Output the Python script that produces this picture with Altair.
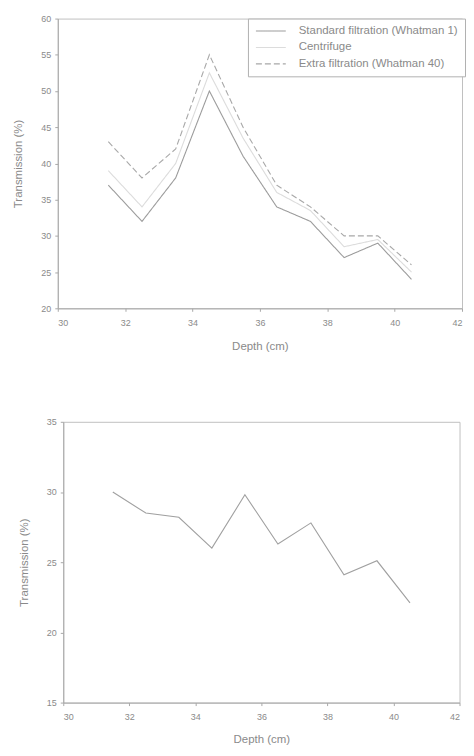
import altair as alt
import pandas as pd

depth = [31.5, 32.5, 33.5, 34.5, 35.5, 36.5, 37.5, 38.5, 39.5, 40.5]
series_names = ["Standard filtration (Whatman 1)", "Centrifuge", "Extra filtration (Whatman 40)"]
standard = [37, 32, 38, 50, 41, 34, 32, 27, 29, 24]
centrifuge = [39, 34, 40, 52.5, 43.5, 36, 33.5, 28.5, 29.5, 25]
extra = [43, 38, 42, 55, 45, 37, 34, 30, 30, 26]
bottom_vals = [30, 28.5, 28.2, 26, 29.8, 26.3, 27.8, 24.1, 25.1, 22.1]
x_ticks = [30, 32, 34, 36, 38, 40, 42]
top_y_ticks = [20, 25, 30, 35, 40, 45, 50, 55, 60]
bot_y_ticks = [15, 20, 25, 30, 35]

rows = []
for name, vals in zip(series_names, [standard, centrifuge, extra]):
    for d, v in zip(depth, vals):
        rows.append({"Depth": d, "Transmission": v, "Series": name})
top_df = pd.DataFrame(rows)
bot_df = pd.DataFrame({"Depth": depth, "Transmission": bottom_vals})

GRAY = "#a0a0a0"
TXT = "#8a8a8a"


def xaxis(tp):
    return alt.Axis(title="Depth (cm)", values=x_ticks, grid=False,
                    tickSize=3, labelPadding=7, titlePadding=tp)


def yaxis(vals):
    return alt.Axis(title="Transmission (%)", values=vals, grid=False,
                    tickSize=3, labelPadding=4, titlePadding=17)


top = alt.Chart(top_df).mark_line(strokeWidth=1.1).encode(
    x=alt.X("Depth:Q", scale=alt.Scale(domain=[30, 42], nice=False), axis=xaxis(13)),
    y=alt.Y("Transmission:Q", scale=alt.Scale(domain=[20, 60], nice=False), axis=yaxis(top_y_ticks)),
    color=alt.Color("Series:N",
                    scale=alt.Scale(domain=series_names, range=["#9c9c9c", "#dcdcdc", "#a8a8a8"]),
                    sort=series_names,
                    legend=alt.Legend(title=None, orient="none", legendX=191, legendY=0,
                                      symbolType="stroke", symbolSize=900, symbolStrokeWidth=1.1,
                                      clipHeight=11,
                                      strokeColor="#b0b0b0", padding=7, labelOffset=12,
                                      labelFontSize=11.5, labelColor=TXT, rowPadding=4.5,
                                      fillColor="white", labelLimit=300)),
    strokeDash=alt.StrokeDash("Series:N",
                              scale=alt.Scale(domain=series_names, range=[[1, 0], [1, 0], [6, 3]]),
                              sort=series_names, legend=None),
).properties(width=406, height=291)

bottom = alt.Chart(bot_df).mark_line(strokeWidth=1.1, color=GRAY).encode(
    x=alt.X("Depth:Q", scale=alt.Scale(domain=[30, 42], nice=False), axis=xaxis(12)),
    y=alt.Y("Transmission:Q", scale=alt.Scale(domain=[15, 35], nice=False), axis=yaxis(bot_y_ticks)),
).properties(width=398, height=282)

chart = alt.vconcat(top, bottom, spacing=65, center=True).resolve_legend(
    color="independent", strokeDash="independent"
).resolve_scale(color="independent", strokeDash="independent").configure_axis(
    domainColor="#a8a8a8", tickColor="#a8a8a8", labelColor=TXT, titleColor=TXT,
    labelFont="Liberation Sans", titleFont="Liberation Sans", labelFontSize=9,
    titleFontSize=11.5, titleFontWeight="normal",
).configure_view(stroke="#c0c0c0", strokeWidth=1).configure_legend(
    labelFont="Liberation Sans"
).properties(padding={"left": 4, "top": 4, "right": 0, "bottom": 0})

chart.save("out.html", embed_options={"renderer": "svg", "actions": False})
